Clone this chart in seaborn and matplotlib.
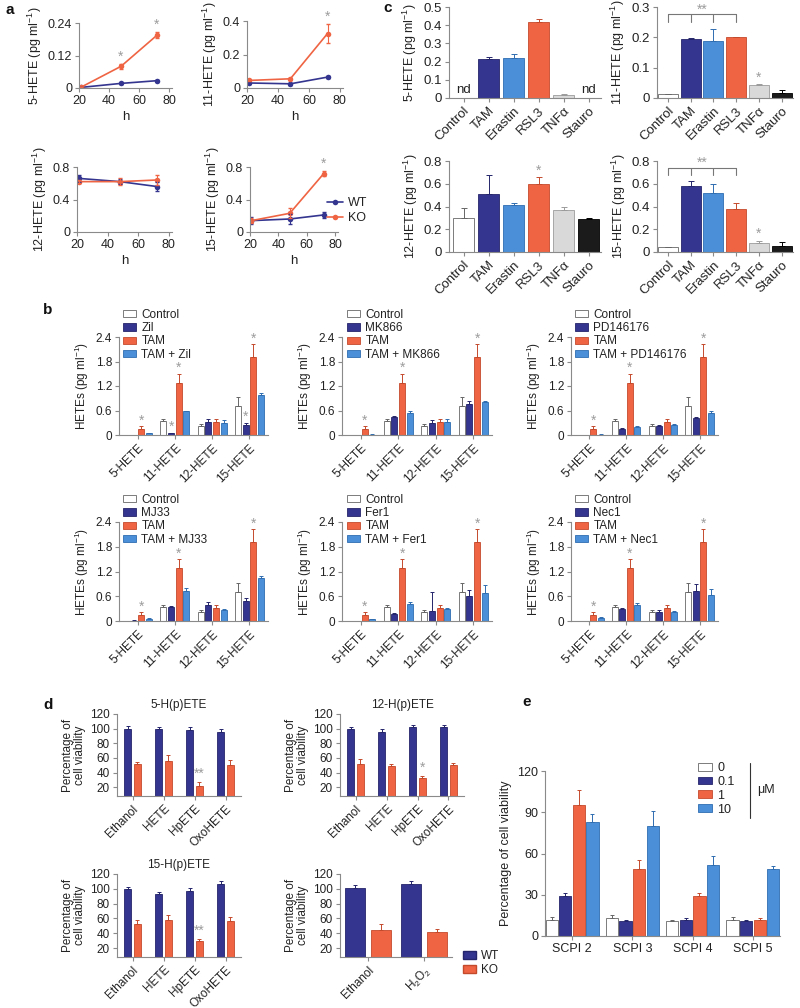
import numpy as np
import pandas as pd
import matplotlib
matplotlib.use("Agg")
import matplotlib.pyplot as plt
import seaborn as sns
from matplotlib.patches import Patch
from matplotlib.lines import Line2D

# ---------------- data ----------------
# panel a
hours = [21, 48, 72]
a_wt_5 = [0.002, 0.017, 0.027]
a_wt_5_err = [0.001, 0.002, 0.002]
a_ko_5 = [0.002, 0.080, 0.195]
a_ko_5_err = [0.001, 0.008, 0.010]
a_wt_11 = [0.030, 0.025, 0.065]
a_wt_11_err = [0.005, 0.005, 0.004]
a_ko_11 = [0.045, 0.055, 0.325]
a_ko_11_err = [0.005, 0.006, 0.055]
a_wt_12 = [0.66, 0.62, 0.56]
a_wt_12_err = [0.04, 0.03, 0.05]
a_ko_12 = [0.62, 0.62, 0.64]
a_ko_12_err = [0.02, 0.04, 0.06]
a_wt_15 = [0.14, 0.16, 0.21]
a_wt_15_err = [0.04, 0.06, 0.04]
a_ko_15 = [0.14, 0.23, 0.72]
a_ko_15_err = [0.03, 0.06, 0.03]

# panel c
c_treat = ["Control", "TAM", "Erastin", "RSL3", "TNF\u03b1", "Stauro"]
c_5 = [0.0, 0.215, 0.218, 0.420, 0.018, 0.0]
c_5_err = [0.0, 0.008, 0.025, 0.015, 0.003, 0.0]
c_5_nd = [True, False, False, False, False, True]
c_11 = [0.012, 0.193, 0.187, 0.200, 0.042, 0.018]
c_11_err = [0.002, 0.006, 0.040, 0.002, 0.003, 0.007]
c_12 = [0.30, 0.51, 0.41, 0.60, 0.37, 0.29]
c_12_err = [0.09, 0.17, 0.02, 0.055, 0.025, 0.01]
c_15 = [0.040, 0.580, 0.515, 0.380, 0.080, 0.055]
c_15_err = [0.005, 0.040, 0.080, 0.050, 0.020, 0.030]

# panel b
b_hetes = ["5-HETE", "11-HETE", "12-HETE", "15-HETE"]
b_inhibitors = ["Zil", "MK866", "PD146176", "MJ33", "Fer1", "Nec1"]
b_control = [0.005, 0.34, 0.21, 0.70]
b_control_err = [0.003, 0.05, 0.06, 0.22]
b_tam = [0.15, 1.28, 0.32, 1.92]
b_tam_err = [0.06, 0.22, 0.07, 0.30]
zil_inh = [0.005, 0.05, 0.33, 0.25]
zil_inh_err = [0.003, 0.01, 0.06, 0.05]
zil_comb = [0.05, 0.58, 0.30, 0.97]
zil_comb_err = [0.01, 0.02, 0.06, 0.06]
mk_inh = [0.005, 0.45, 0.30, 0.75]
mk_inh_err = [0.003, 0.01, 0.06, 0.08]
mk_comb = [0.01, 0.55, 0.32, 0.80]
mk_comb_err = [0.003, 0.03, 0.06, 0.04]
pd_inh = [0.005, 0.15, 0.22, 0.42]
pd_inh_err = [0.003, 0.01, 0.02, 0.02]
pd_comb = [0.01, 0.20, 0.25, 0.55]
pd_comb_err = [0.003, 0.01, 0.02, 0.03]
mj_inh = [0.01, 0.33, 0.38, 0.48]
mj_inh_err = [0.003, 0.03, 0.08, 0.08]
mj_comb = [0.06, 0.72, 0.27, 1.05]
mj_comb_err = [0.01, 0.08, 0.03, 0.04]
fer_inh = [0.005, 0.18, 0.25, 0.60]
fer_inh_err = [0.003, 0.02, 0.45, 0.15]
fer_comb = [0.05, 0.42, 0.28, 0.68]
fer_comb_err = [0.01, 0.05, 0.03, 0.20]
nec_inh = [0.005, 0.30, 0.23, 0.72]
nec_inh_err = [0.003, 0.02, 0.03, 0.18]
nec_comb = [0.08, 0.40, 0.22, 0.62]
nec_comb_err = [0.01, 0.04, 0.03, 0.15]
zil_stars = [(2, 0), (1, 1), (2, 1), (1, 3), (2, 3)]
tam_stars = [(2, 0), (2, 1), (2, 3)]

# panel d
d_treat = ["Ethanol", "HETE", "HpETE", "OxoHETE"]
d5_wt = [100, 99, 98, 95]
d5_wt_err = [3, 3, 4, 5]
d5_ko = [52, 56, 22, 51]
d5_ko_err = [3, 8, 5, 6]
d12_wt = [100, 96, 102, 102]
d12_wt_err = [2, 3, 3, 3]
d12_ko = [52, 49, 33, 51]
d12_ko_err = [6, 3, 2, 2]
d15_wt = [100, 93, 97, 106]
d15_wt_err = [3, 3, 4, 5]
d15_ko = [52, 58, 29, 57]
d15_ko_err = [6, 6, 3, 5]
dh_treat = ["Ethanol", "H$_2$O$_2$"]
dh_wt = [101, 106]
dh_wt_err = [4, 4]
dh_ko = [45, 42]
dh_ko_err = [7, 4]

# panel e
e_groups = ["SCPI 2", "SCPI 3", "SCPI 4", "SCPI 5"]
e_conc = ["0", "0.1", "1", "10"]
e_0 = [12, 13, 11, 12]
e_0_err = [2, 2, 1, 2]
e_01 = [29, 11, 12, 11]
e_01_err = [2, 1, 1, 1]
e_1 = [95, 49, 29, 12]
e_1_err = [11, 6, 2, 1]
e_10 = [83, 80, 52, 49]
e_10_err = [6, 11, 6, 2]

# ---------------- style ----------------
navy = "#34358f"
orange = "#ef6443"
lblue = "#4b8fd8"
lgray = "#d9d9d9"
black = "#1b1b1b"
navy_e = "#24256b"
orange_e = "#c44a2c"
lblue_e = "#2f6db0"
white_e = "#666666"
gray_e = "#9b9b9b"
black_e = "#000000"
star_c = "#9c9c9c"
spine_c = "#8a8a8a"
text_c = "#222222"

sns.set_theme(style="ticks")
plt.rcParams["font.family"] = ["Liberation Sans", "DejaVu Sans"]
plt.rcParams.update({
    "mathtext.fontset": "custom",
    "mathtext.rm": "Liberation Sans",
    "mathtext.it": "Liberation Sans:italic",
    "mathtext.bf": "Liberation Sans:bold",
    "text.color": text_c,
    "axes.labelcolor": text_c,
    "xtick.labelcolor": text_c,
    "ytick.labelcolor": text_c,
})

W, H = 800, 1008
fig = plt.figure(figsize=(W / 100, H / 100), dpi=100)


def add_ax(l, t, r, b):
    return fig.add_axes([l / W, 1 - b / H, (r - l) / W, (b - t) / H])


def style(ax, fs):
    sns.despine(ax=ax)
    for s in ax.spines.values():
        s.set_color(spine_c)
        s.set_linewidth(0.8)
    ax.tick_params(labelsize=fs, length=3, width=0.8, color=spine_c, pad=2)


def star(ax, x, y, s="*", off=4, fs=10):
    ax.annotate(s, (x, y), xytext=(0, off), textcoords="offset points",
                ha="center", va="center", color=star_c, fontsize=fs,
                annotation_clip=False)


def rot(ax, fs):
    plt.setp(ax.get_xticklabels(), rotation=45, ha="right",
             rotation_mode="anchor", fontsize=fs)


def grouped(ax, groups, names, vals, errs, colors, edges, width, gap,
            capsize=1.5, elw=0.7):
    rows = []
    for n, v in zip(names, vals):
        for g, x in zip(groups, v):
            rows.append((g, n, x))
    df = pd.DataFrame(rows, columns=["grp", "ser", "val"])
    sns.barplot(data=df, x="grp", y="val", hue="ser", order=groups,
                hue_order=names, palette=dict(zip(names, colors)),
                width=width, gap=gap, errorbar=None, legend=False,
                saturation=1, linewidth=0.6, ax=ax)
    conts = list(ax.containers)
    tops = []
    for cont, err_list, ec in zip(conts, errs, edges):
        row = []
        for bar, e in zip(cont, err_list):
            bar.set_edgecolor(ec)
            xc = bar.get_x() + bar.get_width() / 2
            h = bar.get_height()
            row.append((xc, h + e))
            if e > 0:
                ax.errorbar([xc], [h], yerr=[[0], [e]], fmt="none",
                            ecolor=ec, elinewidth=elw, capsize=capsize,
                            capthick=elw)
        tops.append(row)
    ax.set_xlabel("")
    ax.set_ylabel("")
    return tops


# ---------------- panel a ----------------
def line_panel(box, wt, wte, ko, koe, ymax, ylabs, stars_i, ylabel):
    ax = add_ax(*box)
    df = pd.DataFrame({"h": hours + hours, "v": wt + ko,
                       "g": ["WT"] * 3 + ["KO"] * 3})
    sns.lineplot(data=df, x="h", y="v", hue="g", hue_order=["WT", "KO"],
                 palette={"WT": navy, "KO": orange}, marker="o",
                 markersize=4, markeredgewidth=0, linewidth=1.2,
                 legend=False, errorbar=None, ax=ax)
    ax.errorbar(hours, wt, yerr=wte, fmt="none", ecolor=navy,
                elinewidth=0.8, capsize=1.5)
    ax.errorbar(hours, ko, yerr=koe, fmt="none", ecolor=orange,
                elinewidth=0.8, capsize=1.5)
    for i in stars_i:
        star(ax, hours[i], ko[i] + koe[i], off=5.5, fs=10)
    ax.set_xlim(20, 82)
    ax.set_xticks([20, 40, 60, 80])
    ax.set_ylim(0, ymax)
    ax.set_yticks([0, ymax / 2, ymax])
    ax.set_yticklabels(ylabs)
    style(ax, 9)
    ax.set_xlabel("h", fontsize=9.5, labelpad=3)
    ax.set_ylabel(ylabel, fontsize=9, labelpad=3)
    return ax


line_panel((79, 23, 172, 88), a_wt_5, a_wt_5_err, a_ko_5, a_ko_5_err, 0.24,
           ["0", "0.12", "0.24"], [1, 2], "5-HETE (pg ml$^{-1}$)")
line_panel((247, 21, 343, 88), a_wt_11, a_wt_11_err, a_ko_11, a_ko_11_err,
           0.4, ["0", "0.2", "0.4"], [2], "11-HETE (pg ml$^{-1}$)")
line_panel((77, 167, 172, 232), a_wt_12, a_wt_12_err, a_ko_12, a_ko_12_err,
           0.8, ["0", "0.4", "0.8"], [], "12-HETE (pg ml$^{-1}$)")
ax15 = line_panel((250, 167, 338, 232), a_wt_15, a_wt_15_err, a_ko_15,
                  a_ko_15_err, 0.8, ["0", "0.4", "0.8"], [2],
                  "15-HETE (pg ml$^{-1}$)")
ax15.legend(handles=[Line2D([0], [0], color=navy, marker="o", ms=4, lw=1.2,
                            mew=0, label="WT"),
                     Line2D([0], [0], color=orange, marker="o", ms=4, lw=1.2,
                            mew=0, label="KO")],
            loc="upper left", bbox_to_anchor=(327 / W, 1 - 197 / H),
            bbox_transform=fig.transFigure, frameon=False, fontsize=9,
            handlelength=1.3, handletextpad=0.4, labelspacing=0.25,
            borderpad=0, borderaxespad=0)

# ---------------- panel c ----------------
c_colors = ["white", navy, lblue, orange, lgray, black]
c_edges = [white_e, navy_e, lblue_e, orange_e, gray_e, black_e]


def c_panel(box, vals, errs, ymax, yticks, ylabels, ylabel, xlim0, bw):
    ax = add_ax(*box)
    sns.barplot(x=c_treat, y=vals, hue=c_treat, palette=dict(zip(c_treat, c_colors)),
                legend=False, saturation=1, width=bw, linewidth=0.6,
                errorbar=None, ax=ax)
    bars = sorted(ax.patches, key=lambda p: p.get_x())
    for bar, e, ec in zip(bars, errs, c_edges):
        bar.set_edgecolor(ec)
        if e > 0:
            xc = bar.get_x() + bar.get_width() / 2
            ax.errorbar([xc], [bar.get_height()], yerr=[[0], [e]], fmt="none",
                        ecolor=ec, elinewidth=0.7, capsize=2, capthick=0.7)
    ax.set_xlim(xlim0, 5.5)
    ax.set_ylim(0, ymax)
    ax.set_yticks(yticks)
    ax.set_yticklabels(ylabels)
    style(ax, 9.5)
    rot(ax, 9.5)
    ax.set_ylabel(ylabel, fontsize=9, labelpad=3)
    return ax


def bracket(ax, y, ydown, ystar):
    ax.plot([0, 3], [y, y], color="#777777", lw=0.8, clip_on=False)
    for xi in range(4):
        ax.plot([xi, xi], [y, ydown], color="#777777", lw=0.8, clip_on=False)
    ax.text(1.5, ystar, "**", ha="center", va="center", color=star_c,
            fontsize=10)


axc5 = c_panel((449, 7, 601, 98), c_5, c_5_err, 0.5,
               [0, 0.1, 0.2, 0.3, 0.4, 0.5],
               ["0", "0.1", "0.2", "0.3", "0.4", "0.5"],
               "5-HETE (pg ml$^{-1}$)", -0.58, 0.85)
for i, nd in enumerate(c_5_nd):
    if nd:
        axc5.text(i, 0.012, "nd", ha="center", va="bottom", fontsize=9.5)
axc11 = c_panel((657, 7, 793, 98), c_11, c_11_err, 0.3, [0, 0.1, 0.2, 0.3],
                ["0", "0.1", "0.2", "0.3"], "11-HETE (pg ml$^{-1}$)",
                -0.48, 0.88)
bracket(axc11, 0.277, 0.25, 0.29)
star(axc11, 4, c_11[4] + c_11_err[4], off=5)
axc12 = c_panel((449, 161, 601, 252), c_12, c_12_err, 0.8,
                [0, 0.2, 0.4, 0.6, 0.8], ["0", "0.2", "0.4", "0.6", "0.8"],
                "12-HETE (pg ml$^{-1}$)", -0.58, 0.85)
star(axc12, 3, c_12[3] + c_12_err[3], off=5)
axc15 = c_panel((657, 161, 793, 252), c_15, c_15_err, 0.8,
                [0, 0.2, 0.4, 0.6, 0.8], ["0", "0.2", "0.4", "0.6", "0.8"],
                "15-HETE (pg ml$^{-1}$)", -0.48, 0.88)
bracket(axc15, 0.74, 0.68, 0.785)
star(axc15, 4, c_15[4] + c_15_err[4], off=5)

# ---------------- panel b ----------------
b_colors = ["white", navy, orange, lblue]
b_edges = [white_e, navy_e, orange_e, lblue_e]
b_panels = [
    (b_inhibitors[0], zil_inh, zil_inh_err, zil_comb, zil_comb_err, zil_stars),
    (b_inhibitors[1], mk_inh, mk_inh_err, mk_comb, mk_comb_err, tam_stars),
    (b_inhibitors[2], pd_inh, pd_inh_err, pd_comb, pd_comb_err, tam_stars),
    (b_inhibitors[3], mj_inh, mj_inh_err, mj_comb, mj_comb_err, tam_stars),
    (b_inhibitors[4], fer_inh, fer_inh_err, fer_comb, fer_comb_err, tam_stars),
    (b_inhibitors[5], nec_inh, nec_inh_err, nec_comb, nec_comb_err, tam_stars),
]
b_cols = [(119, 268, 123), (342, 492, 347), (571, 718, 575)]
b_rows = [(337, 435, 309), (522, 621, 494)]

for k, (inh, iv, ie, cv, ce, stars_list) in enumerate(b_panels):
    l, r, lx = b_cols[k % 3]
    t, b, ly = b_rows[k // 3]
    ax = add_ax(l, t, r, b)
    names = ["Control", inh, "TAM", "TAM + " + inh]
    tops = grouped(ax, b_hetes, names, [b_control, iv, b_tam, cv],
                   [b_control_err, ie, b_tam_err, ce], b_colors, b_edges,
                   width=0.82, gap=0.2)
    for si, gi in stars_list:
        xs, ys = tops[si][gi]
        star(ax, xs, ys, off=4)
    ax.set_xlim(-0.5, 3.5)
    ax.set_ylim(0, 2.4)
    ax.set_yticks([0, 0.6, 1.2, 1.8, 2.4])
    ax.set_yticklabels(["0", "0.6", "1.2", "1.8", "2.4"])
    style(ax, 8.5)
    rot(ax, 8.5)
    ax.set_ylabel("HETEs (pg ml$^{-1}$)", fontsize=8.5, labelpad=3)
    handles = [Patch(facecolor=c, edgecolor=e, linewidth=0.6, label=n)
               for c, e, n in zip(b_colors, b_edges, names)]
    ax.legend(handles=handles, loc="upper left",
              bbox_to_anchor=(lx / W, 1 - ly / H),
              bbox_transform=fig.transFigure, frameon=False, fontsize=8.5,
              handlelength=1.1, handleheight=0.55, handletextpad=0.45,
              labelspacing=0.1, borderpad=0, borderaxespad=0)

# ---------------- panel d ----------------
d_colors = [navy, orange]
d_edges = [navy_e, orange_e]


def d_panel(box, cats, wt, wte, ko, koe, title, star_s, width, gap, xlim):
    ax = add_ax(*box)
    tops = grouped(ax, cats, ["WT", "KO"], [wt, ko], [wte, koe], d_colors,
                   d_edges, width=width, gap=gap)
    if star_s:
        xs, ys = tops[1][2]
        star(ax, xs, ys, s=star_s, off=6)
    ax.set_xlim(*xlim)
    ax.set_ylim(8, 120)
    ax.set_yticks([20, 40, 60, 80, 100, 120])
    style(ax, 8.5)
    rot(ax, 8.5)
    ax.set_ylabel("Percentage of\ncell viability", fontsize=8.5,
                  labelpad=3, linespacing=1.0)
    if title:
        x0, x1 = box[0], box[2]
        fig.text((x0 + x1) / 2 / W, 1 - (box[1] - 9) / H, title,
                 ha="center", va="center", fontsize=8.5)
    return ax


d_panel((117, 714, 241, 796), d_treat, d5_wt, d5_wt_err, d5_ko, d5_ko_err,
        "5-H(p)ETE", "**", 0.64, 0.23, (-0.5, 3.5))
d_panel((340, 714, 464, 796), d_treat, d12_wt, d12_wt_err, d12_ko,
        d12_ko_err, "12-H(p)ETE", "*", 0.64, 0.23, (-0.5, 3.5))
d_panel((117, 874, 241, 957), d_treat, d15_wt, d15_wt_err, d15_ko,
        d15_ko_err, "15-H(p)ETE", "**", 0.64, 0.23, (-0.5, 3.5))
axdh = d_panel((340, 874, 452, 957), dh_treat, dh_wt, dh_wt_err, dh_ko,
               dh_ko_err, None, None, 0.92, 0.2, (-0.5, 1.5))
axdh.legend(handles=[Patch(facecolor=navy, edgecolor=navy_e, label="WT"),
                     Patch(facecolor=orange, edgecolor=orange_e, label="KO")],
            loc="upper left", bbox_to_anchor=(463 / W, 1 - 950 / H),
            bbox_transform=fig.transFigure, frameon=False, fontsize=8.5,
            handlelength=1.1, handleheight=0.7, handletextpad=0.45,
            labelspacing=0.2, borderpad=0, borderaxespad=0)

# ---------------- panel e ----------------
e_colors = ["white", navy, orange, lblue]
e_edges = [white_e, navy_e, orange_e, lblue_e]
axe = add_ax(545, 771, 780, 936)
grouped(axe, e_groups, e_conc, [e_0, e_01, e_1, e_10],
        [e_0_err, e_01_err, e_1_err, e_10_err], e_colors, e_edges,
        width=0.9, gap=0.1)
axe.set_xlim(-0.45, 3.45)
axe.set_ylim(0, 120)
axe.set_yticks([0, 30, 60, 90, 120])
style(axe, 9)
axe.set_ylabel("Percentage of cell viability", fontsize=9, labelpad=4)
axe.legend(handles=[Patch(facecolor=c, edgecolor=e, linewidth=0.6, label=n)
                    for c, e, n in zip(e_colors, e_edges, e_conc)],
           loc="upper left", bbox_to_anchor=(698 / W, 1 - 762 / H),
           bbox_transform=fig.transFigure, frameon=False, fontsize=9,
           handlelength=1.1, handleheight=0.6, handletextpad=0.45,
           labelspacing=0.15, borderpad=0, borderaxespad=0)
fig.add_artist(Line2D([750 / W, 750 / W], [1 - 763 / H, 1 - 818 / H],
                      transform=fig.transFigure, color="#333333", lw=0.8))
fig.text(757 / W, 1 - 790 / H, "\u03bcM", ha="left", va="center", fontsize=9)

# ---------------- panel letters ----------------
for lab, x, y in [("a", 5, 10), ("b", 43, 310), ("c", 383, 8),
                  ("d", 43, 705), ("e", 522, 702)]:
    fig.text(x / W, 1 - y / H, lab, fontsize=11, fontweight="bold",
             ha="left", va="center", color="#111111")

fig.savefig("out.png", dpi=100)
